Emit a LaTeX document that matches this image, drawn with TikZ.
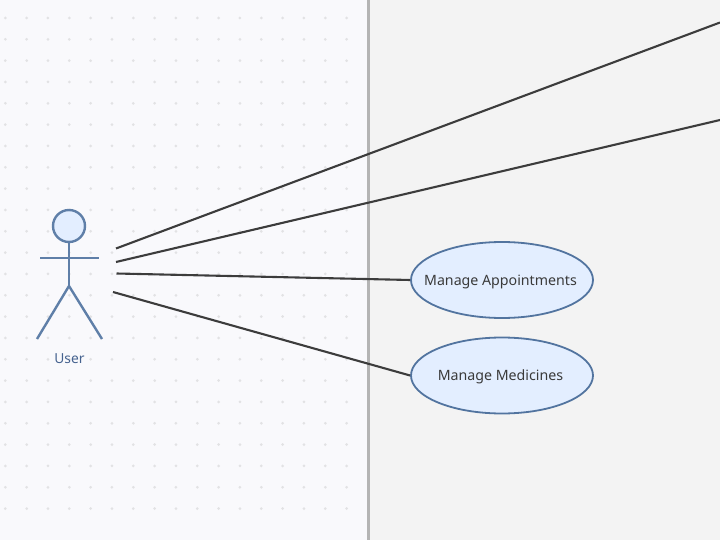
\documentclass[tikz,border=0pt]{standalone}
\usepackage{fontspec}
\setmainfont{Noto Sans}
\definecolor{leftbg}{HTML}{F9F9FC}
\definecolor{rightbg}{HTML}{F3F3F3}
\definecolor{divider}{HTML}{B4B4B4}
\definecolor{griddot}{HTML}{E2E2E4}
\definecolor{actorblue}{HTML}{5F7FA8}
\definecolor{usefill}{HTML}{E3EEFF}
\definecolor{usedraw}{HTML}{52749F}
\definecolor{linkcol}{HTML}{3C3C3C}
\definecolor{labelblue}{HTML}{45628F}
\definecolor{usetext}{HTML}{3A3A3A}
\usetikzlibrary{shapes.geometric}
\newcommand{\usetext}[1]{\makebox[0pt][c]{\hspace{-3pt}\raisebox{-5pt}[0pt][0pt]{#1}}}
\tikzset{
  usecase/.style={ellipse,draw=usedraw,fill=usefill,line width=1.8pt,minimum width=182pt,minimum height=76pt,inner sep=0pt,font=\fontsize{14.2pt}{16pt}\selectfont,text=usetext},
  link/.style={draw=linkcol,line width=2.1pt},
  limb/.style={draw=actorblue,line width=2.4pt},
}
\begin{document}
\begin{tikzpicture}[x=1pt,y=-1pt]
\useasboundingbox (0,0) rectangle (720,540);
\fill[leftbg] (0,0) rectangle (368,540);
\fill[rightbg] (368,0) rectangle (720,540);
\foreach \i in {0,...,16}{\foreach \j in {0,...,24}{
  \fill[griddot] ({5.33+21.33*\i},{18+21.33*\j-21.33}) circle (1.5pt);
}}
\draw[divider,line width=2.4pt] (368.3,0) -- (368.3,540);
\node[circle,draw=actorblue,fill=usefill,line width=2.4pt,minimum size=32pt,inner sep=0pt] (head) at (69,226) {};
\coordinate (hip) at (69,286);
\coordinate (armL) at (40,258);
\coordinate (armR) at (99,258);
\coordinate (legL) at (37,339);
\coordinate (legR) at (102,339);
\draw[limb] (head.south) -- (hip);
\draw[limb] (armL) -- (armR);
\draw[limb] (legL) -- (hip) -- (legR);
\node[text=labelblue,font=\fontsize{13.8pt}{15pt}\selectfont] (userlabel) at (69.5,358.5) {User};
\node[usecase] (appt) at (502,280) {\usetext{Manage Appointments}};
\node[usecase] (med) at (502,375.5) {\usetext{Manage Medicines}};
\coordinate (a1) at (116,248.5);
\coordinate (a2) at (116,262);
\coordinate (a3) at (116.5,273.5);
\coordinate (a4) at (113,292);
\coordinate (e1) at (720,22.5);
\coordinate (e2) at (720,120);
\draw[link] (a1) -- (e1);
\draw[link] (a2) -- (e2);
\draw[link] (a3) -- (appt.west);
\draw[link] (a4) -- (med.west);
\end{tikzpicture}
\end{document}
